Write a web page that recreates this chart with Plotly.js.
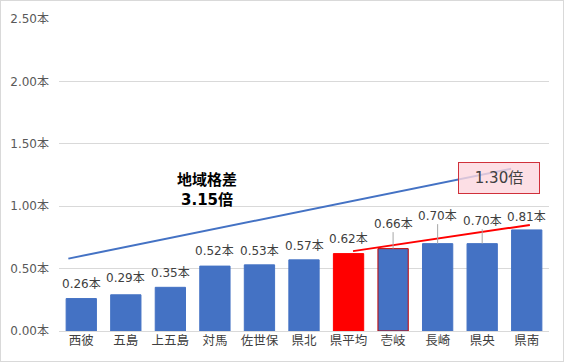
<!DOCTYPE html>
<html>
<head>
<meta charset="utf-8">
<script src="https://cdn.plot.ly/plotly-3.0.1.min.js"></script>
<style>
html,body{margin:0;padding:0;background:#fff;}
#chart{width:564px;height:362px;box-sizing:border-box;border:1px solid #d9d9d9;}
</style>
</head>
<body>
<div id="chart"></div>
<script>
// Data
const categories = ["西彼","五島","上五島","対馬","佐世保","県北","県平均","壱岐","長崎","県央","県南"];
const values = [0.26,0.29,0.35,0.52,0.53,0.57,0.62,0.66,0.70,0.70,0.81];
const barColors = ["#4472C4","#4472C4","#4472C4","#4472C4","#4472C4","#4472C4","#FF0000","#4472C4","#4472C4","#4472C4","#4472C4"];
const barLineColors = ["#4472C4","#4472C4","#4472C4","#4472C4","#4472C4","#4472C4","#FF0000","#C00000","#4472C4","#4472C4","#4472C4"];
// label offsets above bar tops (pixels); leader lines where flagged
const labelOffsets = [-15,-17,-14,-15,-14,-14,-15,-25,-28,-23,-13];
const labelLeader = [false,false,false,false,false,false,false,true,true,true,false];
const yTickVals = [0,0.5,1.0,1.5,2.0,2.5];
const yTickText = ["0.00本","0.50本","1.00本","1.50本","2.00本","2.50本"];
// Trend lines (category index, value)
const blueLineX = [-0.29, 9.65];
const blueLineY = [0.58, 1.30];
const redLineX = [6.1, 10.07];
const redLineY = [0.64, 0.85];
// Text notes
const gapTitle = "地域格差";
const gapAll = "3.15倍";
const gapRegion = "1.30倍";

const font = "'Noto Sans CJK JP', 'Noto Sans', sans-serif";
const numFont = "'DejaVu Sans', 'Noto Sans CJK JP', sans-serif";

const trace = {
  type: "bar",
  x: categories,
  y: values,
  marker: {color: barColors, line: {color: barLineColors, width: 1}},
  hoverinfo: "none"
};

const annotations = categories.map((c, i) => {
  const a = {
    x: c, y: values[i], xref: "x", yref: "y",
    text: values[i].toFixed(2) + "本",
    font: {family: numFont, size: 12, color: "#404040"},
  };
  if (labelLeader[i]) {
    Object.assign(a, {showarrow: true, arrowhead: 0, arrowwidth: 1, arrowcolor: "#a6a6a6", ax: 0, ay: labelOffsets[i], standoff: 0});
  } else {
    Object.assign(a, {showarrow: false, yshift: -labelOffsets[i]});
  }
  return a;
});

annotations.push({
  x: 2.82, y: 1.22, xref: "x", yref: "y", text: "<b>" + gapTitle + "</b>", showarrow: false,
  font: {family: font, size: 15, color: "#000"}
});
annotations.push({
  x: 2.82, y: 1.05, xref: "x", yref: "y", text: "<b>" + gapAll + "</b>", showarrow: false,
  font: {family: numFont, size: 15, color: "#000"}
});
annotations.push({
  x: 9.37, y: 1.226, xref: "x", yref: "y", text: gapRegion, showarrow: false,
  font: {family: numFont, size: 15, color: "#404040"},
  bgcolor: "rgba(253,215,222,0.8)", bordercolor: "#D0303A", borderwidth: 1, borderpad: 4,
  width: 72, height: 22
});

const shapes = [
  {type: "line", xref: "x", yref: "y", x0: blueLineX[0], y0: blueLineY[0], x1: blueLineX[1], y1: blueLineY[1],
   line: {color: "#4472C4", width: 2}},
  {type: "line", xref: "x", yref: "y", x0: redLineX[0], y0: redLineY[0], x1: redLineX[1], y1: redLineY[1],
   line: {color: "#FF0000", width: 2}}
];

const layout = {
  width: 564, height: 362,
  margin: {l: 58, r: 16, t: 18, b: 32},
  paper_bgcolor: "rgba(0,0,0,0)",
  plot_bgcolor: "#fff",
  showlegend: false,
  bargap: 0.32,
  font: {family: font, color: "#595959"},
  xaxis: {
    type: "category",
    tickfont: {family: font, size: 12.5, color: "#404040"},
    showgrid: false, showline: false, ticks: "", ticklen: 0
  },
  yaxis: {
    range: [0, 2.5],
    tickmode: "array",
    tickvals: yTickVals,
    ticktext: yTickText,
    tickfont: {family: numFont, size: 12, color: "#595959"},
    gridcolor: "#d9d9d9", gridwidth: 1,
    zeroline: true, zerolinecolor: "#d9d9d9", zerolinewidth: 1,
    showline: false, ticks: "", ticklabelstandoff: 9
  },
  annotations: annotations,
  shapes: shapes
};

Plotly.newPlot("chart", [trace], layout, {staticPlot: true, displayModeBar: false});
</script>
</body>
</html>
